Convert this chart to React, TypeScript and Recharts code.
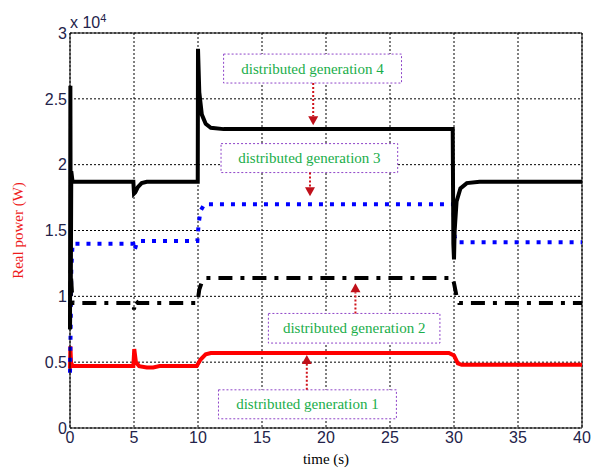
import React from "react";
import {
  LineChart,
  Line,
  XAxis,
  YAxis,
  CartesianGrid,
  ReferenceLine,
  ReferenceArea,
} from "recharts";

// power values are in units of 1e4 W (axis shows "x 10^4")
const dg1Time = [0, 0.03, 0.08, 0.2, 4.95, 5.02, 5.15, 5.4, 6.0, 6.5, 7, 9.9, 10.2, 10.6, 11, 29.6, 30.0, 30.3, 30.6, 40];
const dg1Power = [0.45, 0.62, 0.5, 0.47, 0.47, 0.6, 0.5, 0.47, 0.46, 0.46, 0.47, 0.47, 0.52, 0.56, 0.57, 0.57, 0.55, 0.49, 0.48, 0.48];

const dg2Time = [0, 0.05, 0.2, 4.95, 5.0, 5.1, 5.3, 9.95, 10.1, 10.3, 10.6, 29.9, 30.0, 30.2, 30.4, 40];
const dg2Power = [0.75, 1.2, 0.95, 0.95, 0.9, 0.97, 0.95, 0.95, 1.05, 1.11, 1.14, 1.14, 1.1, 1.0, 0.95, 0.95];

const dg3Time = [0, 0.05, 0.1, 0.2, 4.95, 5.05, 5.2, 5.4, 9.95, 10.05, 10.2, 10.5, 29.95, 30.05, 30.2, 40];
const dg3Power = [0.42, 0.75, 1.2, 1.4, 1.4, 1.35, 1.4, 1.42, 1.42, 1.55, 1.65, 1.7, 1.7, 1.45, 1.41, 1.41];

const dg4Time = [0, 0.03, 0.06, 0.1, 0.2, 4.95, 5.0, 5.1, 5.3, 5.6, 6.0, 9.98, 10.0, 10.1, 10.3, 10.6, 11.0, 12, 29.9, 29.95, 30.0, 30.05, 30.2, 30.5, 31.0, 32, 40];
const dg4Power = [0.75, 2.6, 1.0, 1.95, 1.87, 1.87, 1.78, 1.79, 1.83, 1.86, 1.87, 1.87, 2.88, 2.55, 2.38, 2.31, 2.28, 2.27, 2.27, 1.4, 1.28, 1.5, 1.72, 1.82, 1.86, 1.87, 1.87];

const xTicks = [0, 5, 10, 15, 20, 25, 30, 35, 40];
const yTicks = [0, 0.5, 1, 1.5, 2, 2.5, 3];

// annotation boxes [x1, x2, y1, y2] and arrows [x, yFrom, yTo]
const boxLabels = ["distributed generation 4", "distributed generation 3", "distributed generation 2", "distributed generation 1"];
const boxX1 = [12.0, 11.8, 15.5, 11.6];
const boxX2 = [25.9, 25.6, 28.9, 25.5];
const boxY1 = [2.62, 1.94, 0.645, 0.07];
const boxY2 = [2.84, 2.16, 0.87, 0.29];
const arrowX = [19.0, 18.75, 22.3, 18.5];
const arrowFrom = [2.62, 1.94, 0.87, 0.29];
const arrowTo = [2.3, 1.76, 1.1, 0.555];

const toRows = (t: number[], v: number[]) => t.map((time, i) => ({ time, value: v[i] }));

const serif = "'Liberation Serif', 'Times New Roman', serif";
const tickStyle = { fill: "#23234a", fontSize: 16, fontFamily: "Liberation Sans, Arial, sans-serif" };

const Arrow = (props: any) => {
  const { x1, y1, x2, y2 } = props;
  const dir = y2 < y1 ? -1 : 1;
  const headLen = 9;
  const baseY = y2 - dir * headLen;
  return (
    <g>
      <line x1={x1} y1={y1} x2={x2} y2={baseY} stroke="#d0131b" strokeWidth={2} strokeDasharray="2 2" />
      <polygon points={`${x2 - 5},${baseY} ${x2 + 5},${baseY} ${x2},${y2}`} fill="#c0101a" />
    </g>
  );
};

const BoxLabel = (props: any) => {
  const { viewBox, value } = props;
  const cx = viewBox.x + viewBox.width / 2;
  const cy = viewBox.y + viewBox.height / 2;
  return (
    <text x={cx} y={cy} dy={5} textAnchor="middle" fill="#1aae4a" fontSize={15} fontFamily={serif}>
      {value}
    </text>
  );
};

const XLabel = (props: any) => {
  const { viewBox } = props;
  return (
    <text x={viewBox.x + viewBox.width / 2} y={464} textAnchor="middle" fill="#000" fontSize={15} fontFamily={serif}>
      time (s)
    </text>
  );
};

const YLabel = (props: any) => {
  const { viewBox } = props;
  const cy = viewBox.y + viewBox.height / 2;
  return (
    <text x={23} y={cy} transform={`rotate(-90 23 ${cy})`} textAnchor="middle" fill="#ee1c1c" fontSize={15} fontFamily={serif}>
      Real power (W)
    </text>
  );
};

export default function App() {
  return (
    <div style={{ position: "absolute", left: 0, top: 0, width: 594, height: 468, background: "#fff" }}>
      <LineChart width={594} height={468} margin={{ top: 33, right: 12, left: 8, bottom: 0 }}>
        <CartesianGrid stroke="#000" strokeDasharray="2 2" strokeWidth={1} />
        <XAxis
          type="number"
          dataKey="time"
          domain={[0, 40]}
          ticks={xTicks}
          allowDuplicatedCategory={false}
          stroke="#000"
          tickLine={false}
          tickSize={0}
          tickMargin={4}
          height={40}
          tick={tickStyle}
          label={<XLabel />}
        />
        <YAxis
          type="number"
          domain={[0, 3]}
          ticks={yTicks}
          stroke="#000"
          tickLine={false}
          tickSize={0}
          tickMargin={3}
          width={62}
          tick={tickStyle}
          label={<YLabel />}
        />
        <ReferenceLine y={3} stroke="#000" strokeWidth={1} />
        <ReferenceLine x={40} stroke="#000" strokeWidth={1} />
        <Line data={toRows(dg1Time, dg1Power)} dataKey="value" stroke="#ff0000" strokeWidth={4} dot={false} isAnimationActive={false} />
        <Line data={toRows(dg3Time, dg3Power)} dataKey="value" stroke="#0000ff" strokeWidth={4} strokeDasharray="4 7" dot={false} isAnimationActive={false} />
        <Line data={toRows(dg2Time, dg2Power)} dataKey="value" stroke="#000" strokeWidth={4} strokeDasharray="14 8 4 8" dot={false} isAnimationActive={false} />
        <Line data={toRows(dg4Time, dg4Power)} dataKey="value" stroke="#000" strokeWidth={4} dot={false} isAnimationActive={false} />
        {boxLabels.map((text, i) => (
          <ReferenceArea
            key={text}
            x1={boxX1[i]}
            x2={boxX2[i]}
            y1={boxY1[i]}
            y2={boxY2[i]}
            fill="#fff"
            fillOpacity={1}
            stroke="#8e44c8"
            strokeDasharray="2 2"
            strokeWidth={1}
            label={<BoxLabel value={text} />}
          />
        ))}
        {arrowX.map((x, i) => (
          <ReferenceLine
            key={"arrow" + i}
            segment={[{ x, y: arrowFrom[i] }, { x, y: arrowTo[i] }]}
            shape={Arrow}
          />
        ))}
      </LineChart>
      <div
        style={{
          position: "absolute",
          left: 70,
          top: 9,
          fontFamily: "Liberation Sans, Arial, sans-serif",
          fontSize: 16,
          color: "#23234a",
          lineHeight: "18px",
        }}
      >
        x 10<sup style={{ fontSize: 11, verticalAlign: "6px" }}>4</sup>
      </div>
    </div>
  );
}
